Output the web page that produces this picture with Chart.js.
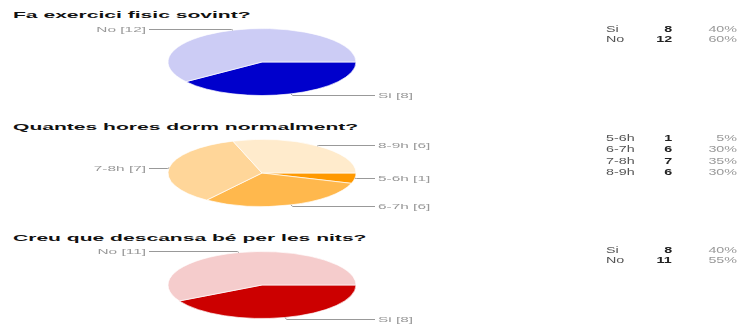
<!DOCTYPE html>
<html>
<head>
<meta charset="utf-8">
<script src="https://cdn.jsdelivr.net/npm/chart.js@4/dist/chart.umd.min.js"></script>
<style>
  html, body { margin: 0; padding: 0; background: #fff; }
  body { position: relative; width: 739px; height: 326px; overflow: hidden;
         font-family: "Liberation Sans", Arial, sans-serif; }
  .title { position: absolute; left: 13px; white-space: nowrap; font-weight: bold;
           font-size: 13px; line-height: 13px; color: #111;
           transform-origin: 0 0; transform: scale(1.62, 0.645); }
  canvas.pie { position: absolute; left: 0; }
  .row { position: absolute; left: 0; width: 739px; height: 11px; }
  .row span { position: absolute; top: 0; white-space: nowrap; font-size: 11px; line-height: 11px; }
  .row .lab { left: 606px; color: #555; transform-origin: 0 50%; transform: scale(1.3, 0.74); }
  .row .cnt { right: 67px; color: #222; font-weight: bold; transform-origin: 100% 50%; transform: scale(1.3, 0.74); }
  .row .pct { right: 2px; color: #999; transform-origin: 100% 50%; transform: scale(1.3, 0.74); }
</style>
</head>
<body>
<div class="title" style="top:11px">Fa exercici fisic sovint?</div>
<div class="title" style="top:123px">Quantes hores dorm normalment?</div>
<div class="title" style="top:234px">Creu que descansa bé per les nits?</div>

<canvas id="pieExercise" class="pie" width="739" height="100" style="top:12px"></canvas>
<canvas id="pieSleep" class="pie" width="739" height="100" style="top:123px"></canvas>
<canvas id="pieRest" class="pie" width="739" height="100" style="top:235px"></canvas>

<div id="tblExercise"></div>
<div id="tblSleep"></div>
<div id="tblRest"></div>

<script>
// Survey answers
const exerciseLabels = ['Si', 'No'];
const exerciseValues = [8, 12];
const exercisePct = ['40%', '60%'];

const sleepLabels = ['5-6h', '6-7h', '7-8h', '8-9h'];
const sleepValues = [1, 6, 7, 6];
const sleepPct = ['5%', '30%', '35%', '30%'];

const restLabels = ['Si', 'No'];
const restValues = [8, 11];
const restPct = ['40%', '55%'];

// Pie drawn as a flattened ellipse, with leader-line callouts "label [value]"
const ellipsePie = {
  id: 'ellipsePie',
  beforeDatasetsDraw(chart, args, opts) {
    const arc = chart.getDatasetMeta(0).data[0];
    const ctx = chart.ctx;
    ctx.save();
    ctx.translate(arc.x, arc.y);
    ctx.scale(1, opts.squash);
    ctx.translate(-arc.x, -arc.y);
  },
  afterDatasetsDraw(chart, args, opts) {
    const ctx = chart.ctx;
    ctx.restore();
    const meta = chart.getDatasetMeta(0);
    const labels = chart.data.labels;
    const values = chart.data.datasets[0].data;
    meta.data.forEach((arc, i) => {
      const p = arc.getProps(['x', 'y', 'startAngle', 'endAngle', 'outerRadius'], true);
      const mid = (p.startAngle + p.endAngle) / 2;
      const c = Math.cos(mid), s = Math.sin(mid);
      const r = p.outerRadius;
      const px = p.x + c * r;
      const py = p.y + s * r * opts.squash;
      const ly = Math.round(p.y + s * (r * opts.squash + opts.lift)) + 0.5;
      const dir = c >= 0 ? 1 : -1;
      const lx = p.x + dir * (r + opts.reach);
      ctx.save();
      ctx.strokeStyle = opts.lineColor;
      ctx.lineWidth = 1;
      ctx.beginPath();
      ctx.moveTo(px, py);
      ctx.lineTo(px + dir * 1.5, ly);
      ctx.lineTo(lx, ly);
      ctx.stroke();
      ctx.translate(lx + dir * 3, ly);
      ctx.scale(opts.textScaleX, opts.textScaleY);
      ctx.font = '11px "Liberation Sans", Arial, sans-serif';
      ctx.fillStyle = opts.textColor;
      ctx.textBaseline = 'middle';
      ctx.textAlign = dir > 0 ? 'left' : 'right';
      ctx.fillText(labels[i] + ' [' + values[i] + ']', 0, 0);
      ctx.restore();
    });
  }
};

function makePie(id, labels, values, colors) {
  return new Chart(document.getElementById(id), {
    type: 'pie',
    data: {
      labels: labels,
      datasets: [{ data: values, backgroundColor: colors, borderColor: '#ffffff', borderWidth: 1, clip: false }]
    },
    options: {
      responsive: false,
      animation: false,
      events: [],
      rotation: 90,
      radius: 94,
      layout: { padding: { left: 168, right: 383, top: 0, bottom: 0 } },
      plugins: {
        legend: { display: false },
        tooltip: { enabled: false },
        ellipsePie: { squash: 33.5 / 94, lift: 1.5, reach: 19, lineColor: '#999999',
                      textColor: '#999999', textScaleX: 1.4, textScaleY: 0.68 }
      }
    },
    plugins: [ellipsePie]
  });
}

makePie('pieExercise', exerciseLabels, exerciseValues, ['#0000cc', '#ccccf5']);
makePie('pieSleep', sleepLabels, sleepValues, ['#ff9900', '#ffb84d', '#ffd699', '#ffebcc']);
makePie('pieRest', restLabels, restValues, ['#cc0000', '#f5cccc']);

// Count / percentage summary tables
function makeTable(id, labels, values, pct, firstCenter, step) {
  const host = document.getElementById(id);
  labels.forEach((lab, i) => {
    const row = document.createElement('div');
    row.className = 'row';
    row.style.top = (firstCenter + i * step - 5.5) + 'px';
    row.innerHTML = '<span class="lab"></span><span class="cnt"></span><span class="pct"></span>';
    row.children[0].textContent = lab;
    row.children[1].textContent = values[i];
    row.children[2].textContent = pct[i];
    host.appendChild(row);
  });
}
makeTable('tblExercise', exerciseLabels, exerciseValues, exercisePct, 29, 10.8);
makeTable('tblSleep', sleepLabels, sleepValues, sleepPct, 138.5, 11.3);
makeTable('tblRest', restLabels, restValues, restPct, 250, 10.8);
</script>
</body>
</html>
